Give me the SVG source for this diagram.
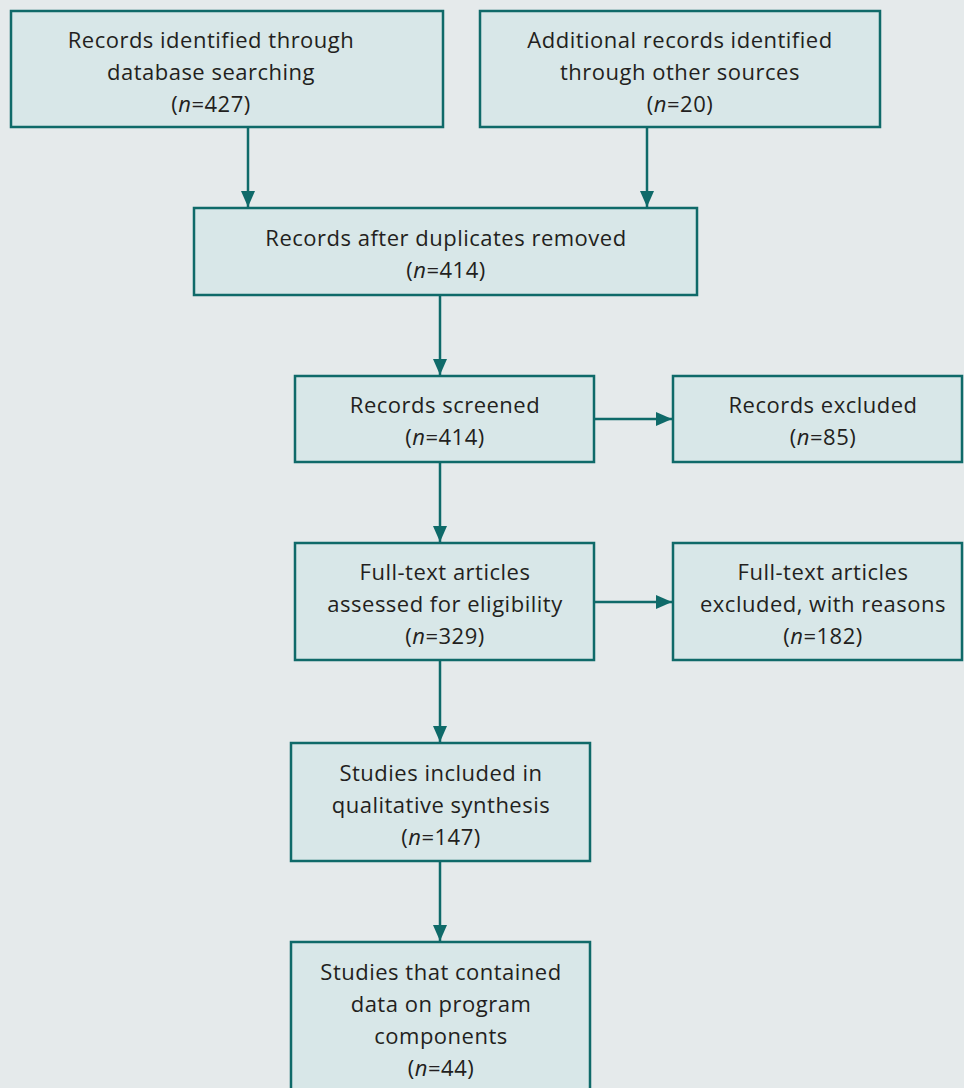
<svg xmlns="http://www.w3.org/2000/svg" width="964" height="1088" viewBox="0 0 964 1088">
<defs>
<marker id="ah" markerWidth="16" markerHeight="14" refX="16" refY="7" orient="auto" markerUnits="userSpaceOnUse" viewBox="0 0 16 14">
<path d="M0,0 L16,7 L0,14 z" fill="#0f6a69"/>
</marker>
<style>
.box{fill:#d8e7e8;stroke:#0f6a69;stroke-width:2.5}
.t{font-family:"Open Sans",Lato,sans-serif;font-size:22px;letter-spacing:0.5px;fill:#231f20;text-anchor:middle}
.c{stroke:#0f6a69;stroke-width:2.5;fill:none;marker-end:url(#ah)}
</style>
</defs>
<rect width="964" height="1088" fill="#e5eaeb"/>
<g id="connectors">
<line class="c" x1="248" y1="127" x2="248" y2="207"/>
<line class="c" x1="647" y1="127" x2="647" y2="207"/>
<line class="c" x1="440" y1="295" x2="440" y2="375"/>
<line class="c" x1="594" y1="419" x2="672" y2="419"/>
<line class="c" x1="440" y1="462" x2="440" y2="542"/>
<line class="c" x1="594" y1="602" x2="672" y2="602"/>
<line class="c" x1="440" y1="660" x2="440" y2="742"/>
<line class="c" x1="440" y1="861" x2="440" y2="941"/>
</g>
<g id="n1"><rect class="box" x="11" y="11" width="432" height="116"/>
<text class="t" x="211" y="48">Records identified through</text>
<text class="t" x="211" y="80">database searching</text>
<text class="t" x="211" y="112">(<tspan font-style="italic">n</tspan>=427)</text></g>
<g id="n2"><rect class="box" x="480" y="11" width="400" height="116"/>
<text class="t" x="680" y="48">Additional records identified</text>
<text class="t" x="680" y="80">through other sources</text>
<text class="t" x="680" y="112">(<tspan font-style="italic">n</tspan>=20)</text></g>
<g id="n3"><rect class="box" x="194" y="208" width="503" height="87"/>
<text class="t" x="446" y="246">Records after duplicates removed</text>
<text class="t" x="446" y="278">(<tspan font-style="italic">n</tspan>=414)</text></g>
<g id="n4"><rect class="box" x="295" y="376" width="299" height="86"/>
<text class="t" x="445" y="413">Records screened</text>
<text class="t" x="445" y="445">(<tspan font-style="italic">n</tspan>=414)</text></g>
<g id="n5"><rect class="box" x="673" y="376" width="289" height="86"/>
<text class="t" x="823" y="413">Records excluded</text>
<text class="t" x="823" y="445">(<tspan font-style="italic">n</tspan>=85)</text></g>
<g id="n6"><rect class="box" x="295" y="543" width="299" height="117"/>
<text class="t" x="445" y="580">Full-text articles</text>
<text class="t" x="445" y="612">assessed for eligibility</text>
<text class="t" x="445" y="644">(<tspan font-style="italic">n</tspan>=329)</text></g>
<g id="n7"><rect class="box" x="673" y="543" width="289" height="117"/>
<text class="t" x="823" y="580">Full-text articles</text>
<text class="t" x="823" y="612">excluded, with reasons</text>
<text class="t" x="823" y="644">(<tspan font-style="italic">n</tspan>=182)</text></g>
<g id="n8"><rect class="box" x="291" y="743" width="299" height="118"/>
<text class="t" x="441" y="781">Studies included in</text>
<text class="t" x="441" y="813">qualitative synthesis</text>
<text class="t" x="441" y="845">(<tspan font-style="italic">n</tspan>=147)</text></g>
<g id="n9"><rect class="box" x="291" y="942" width="299" height="160"/>
<text class="t" x="441" y="980">Studies that contained</text>
<text class="t" x="441" y="1012">data on program</text>
<text class="t" x="441" y="1044">components</text>
<text class="t" x="441" y="1076">(<tspan font-style="italic">n</tspan>=44)</text></g>
</svg>
